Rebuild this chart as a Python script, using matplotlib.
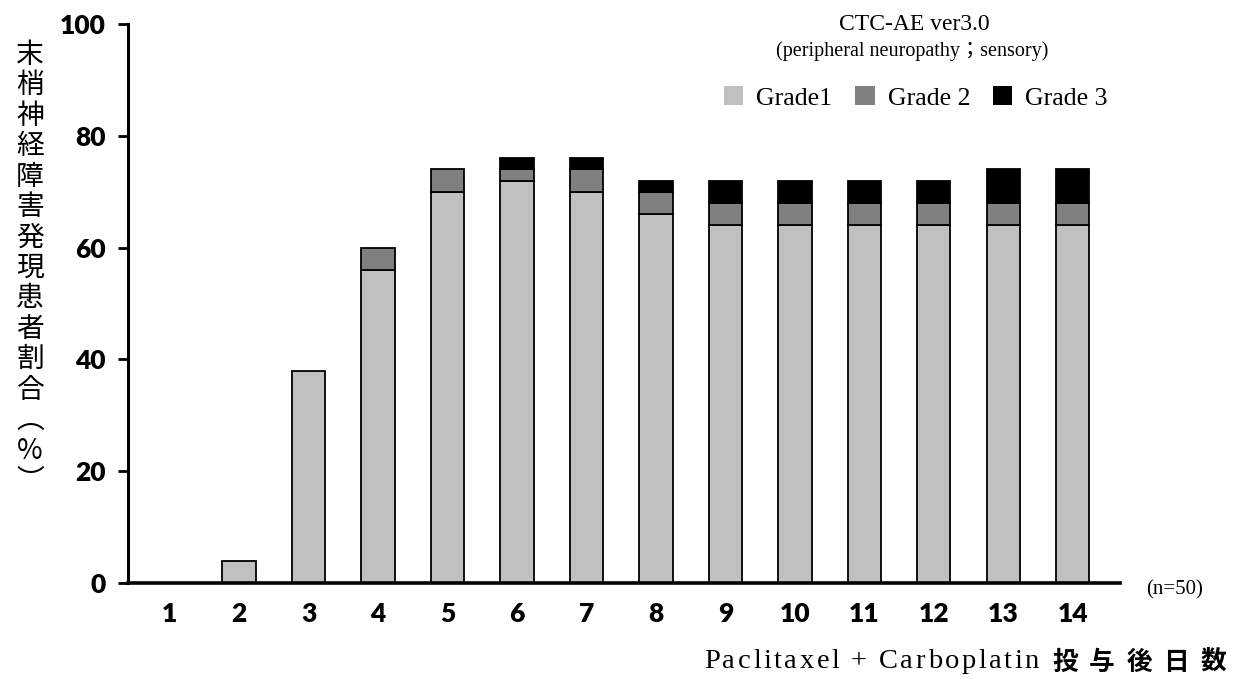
import matplotlib
matplotlib.use("Agg")
import matplotlib.pyplot as plt
import numpy as np
from matplotlib.patches import Patch

days = list(range(1, 15))
grade1 = [0, 4, 38, 56, 70, 72, 70, 66, 64, 64, 64, 64, 64, 64]
grade2 = [0, 0, 0, 4, 4, 2, 4, 4, 4, 4, 4, 4, 4, 4]
grade3 = [0, 0, 0, 0, 0, 2, 2, 2, 4, 4, 4, 4, 6, 6]
labels = ["Grade1", "Grade 2", "Grade 3"]
colors = ["#c0c0c0", "#808080", "#000000"]
yticks = [0, 20, 40, 60, 80, 100]

W, H = 1236, 679
fig = plt.figure(figsize=(W / 100, H / 100), dpi=100)
ax = fig.add_axes([128 / W, (H - 583) / H, (1120 - 128) / W, (583 - 24) / H])

x = np.array(days)
g1 = np.array(grade1); g2 = np.array(grade2); g3 = np.array(grade3)
bw = 0.48
kw = dict(width=bw, edgecolor="black", linewidth=1.3)
for xi, a, b, c in zip(x, g1, g2, g3):
    if a > 0:
        ax.bar(xi, a, color=colors[0], **kw)
    if b > 0:
        ax.bar(xi, b, bottom=a, color=colors[1], **kw)
    if c > 0:
        ax.bar(xi, c, bottom=a + b, color=colors[2], **kw)

ax.set_xlim(0.4, 14.68)
ax.set_ylim(0, 100)
ax.set_yticks(yticks)
ax.set_xticks(days)
for s in ["top", "right"]:
    ax.spines[s].set_visible(False)
ax.spines["left"].set_linewidth(2.2)
ax.spines["bottom"].set_linewidth(2.6)
ax.tick_params(axis="y", direction="out", length=7, width=2, pad=9)
ax.tick_params(axis="x", length=0, pad=14)
for t in ax.get_yticklabels() + ax.get_xticklabels():
    t.set_fontsize(19)
    t.set_fontweight("heavy")
    t.set_family(["Lato", "DejaVu Sans"])

# vertical y label
ylab = "末梢神経障害発現患者割合︵%︶"
fig.text(30 / W, 1 - 268 / H, "\n".join(ylab), ha="center", va="center",
         fontsize=20, family=["Noto Sans CJK JP", "DejaVu Sans"],
         linespacing=1.02)

serif = ["Liberation Serif", "DejaVu Serif"]
fig.text(914 / W, 1 - 25 / H, "CTC-AE ver3.0", ha="center", va="center",
         fontsize=17, family=serif)
fig.text(912 / W, 1 - 51 / H, "(peripheral neuropathy；sensory)", ha="center", va="center",
         fontsize=14.5, family=["Liberation Serif", "Noto Sans CJK JP"])

handles = [Patch(facecolor=c, edgecolor="none") for c in colors]
leg = fig.legend(handles, labels, ncol=3, loc="center", bbox_to_anchor=(916 / W, 1 - 98 / H),
                 frameon=False, handlelength=0.75, handleheight=0.75, handletextpad=0.5,
                 columnspacing=0.9, prop={"family": serif, "size": 18.5})

fig.text(1175 / W, 1 - 590 / H, "(n=50)", ha="center", va="center", fontsize=15, family=serif)

# x label with letter spacing, drawn right-to-left from right edge
xlab_latin = "Paclitaxel + Carboplatin"
xlab_jp = "投与後日数"
fig.canvas.draw()
renderer = fig.canvas.get_renderer()
ypos = 1 - 662 / H
xr = 1226.0
jp_step = 37.0
for ch in reversed(xlab_jp):
    t = fig.text(xr / W, ypos, ch, ha="right", va="center", fontsize=18.5,
                 fontweight="bold", family=["Noto Sans CJK JP"])
    xr -= jp_step
xr -= 2
for ch in reversed(xlab_latin):
    if ch == " ":
        xr -= 9
        continue
    t = fig.text(xr / W, ypos, ch, ha="right", va="center", fontsize=20.5, family=serif)
    w = t.get_window_extent(renderer).width
    xr -= w + 2.6

fig.savefig("out.png", dpi=100)
